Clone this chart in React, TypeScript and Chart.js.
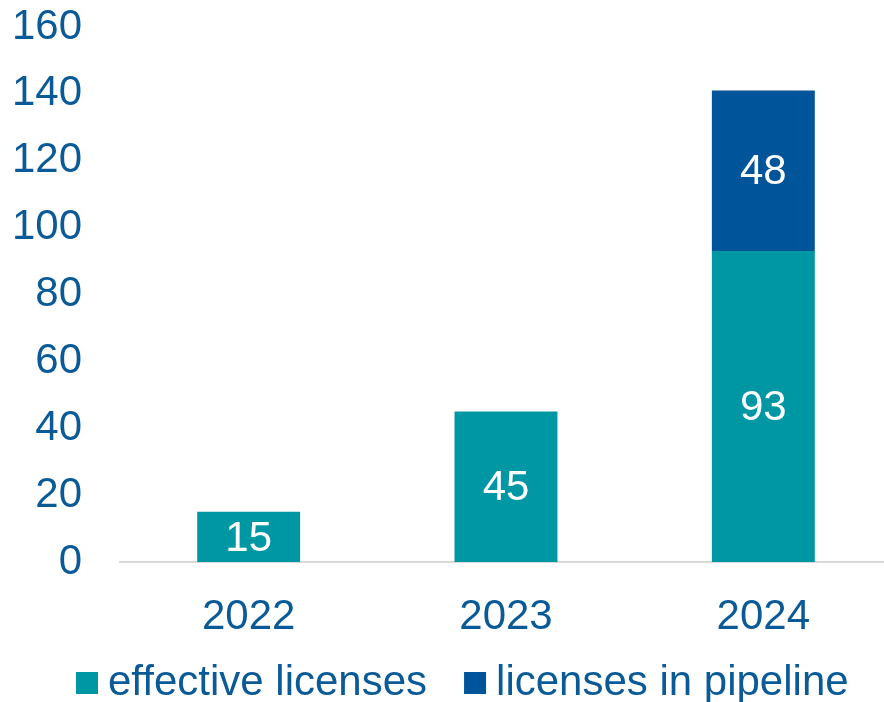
import React, { useEffect, useRef } from "react";
import { Chart, registerables } from "chart.js";

Chart.register(...registerables);

const categories = ["2022", "2023", "2024"];
const effectiveLicenses = [15, 45, 93];
const pipelineLicenses = [null, null, 48];
const seriesLabels = ["effective licenses", "licenses in pipeline"];
const yTicks = [0, 20, 40, 60, 80, 100, 120, 140, 160];

const TEAL = "#0097A4";
const NAVY = "#00559A";
const TEXT = "#0B5A98";
const FONT = "'Liberation Sans', Arial, sans-serif";

const valueLabels = {
  id: "valueLabels",
  afterDatasetsDraw(chart: any) {
    const ctx = chart.ctx;
    ctx.save();
    ctx.fillStyle = "#ffffff";
    ctx.font = `42px ${FONT}`;
    ctx.textAlign = "center";
    ctx.textBaseline = "middle";
    chart.data.datasets.forEach((ds: any, di: number) => {
      const meta = chart.getDatasetMeta(di);
      meta.data.forEach((bar: any, i: number) => {
        const v = ds.data[i];
        if (v == null) return;
        const { x, y, base } = bar.getProps(["x", "y", "base"], true);
        ctx.fillText(String(v), x, (y + base) / 2 + 2);
      });
    });
    ctx.restore();
  },
};

const bottomLegend = {
  id: "bottomLegend",
  afterDraw(chart: any) {
    const ctx = chart.ctx;
    ctx.save();
    ctx.font = `42px ${FONT}`;
    ctx.textBaseline = "middle";
    ctx.textAlign = "left";
    let x = 76;
    const yc = 683;
    chart.data.datasets.forEach((ds: any) => {
      ctx.fillStyle = ds.backgroundColor;
      ctx.fillRect(x, yc - 11, 22, 22);
      x += 22 + 10;
      ctx.fillStyle = TEXT;
      ctx.fillText(ds.label, x, yc);
      x += ctx.measureText(ds.label).width + 37;
    });
    ctx.restore();
  },
};

export default function App() {
  const ref = useRef<HTMLCanvasElement | null>(null);

  useEffect(() => {
    document.body.style.margin = "0";
    document.body.style.overflow = "hidden";
    const chart = new Chart(ref.current!, {
      type: "bar",
      data: {
        labels: categories,
        datasets: [
          {
            label: seriesLabels[0],
            data: effectiveLicenses,
            backgroundColor: TEAL,
            barPercentage: 0.4,
            categoryPercentage: 1,
          },
          {
            label: seriesLabels[1],
            data: pipelineLicenses as any,
            backgroundColor: NAVY,
            barPercentage: 0.4,
            categoryPercentage: 1,
          },
        ],
      },
      options: {
        animation: false,
        responsive: true,
        maintainAspectRatio: false,
        layout: { padding: { top: 27, bottom: 65, left: 0, right: 0 } },
        plugins: {
          legend: { display: false },
          tooltip: { enabled: false },
        },
        scales: {
          x: {
            stacked: true,
            grid: { display: false },
            border: { display: true, color: "#D9D9D9", width: 2 },
            ticks: {
              color: TEXT,
              font: { family: FONT, size: 42 },
              padding: 22,
              maxRotation: 0,
              autoSkip: false,
            },
            afterFit(scale: any) {
              scale.height = 75;
            },
          },
          y: {
            stacked: true,
            min: 0,
            max: 160,
            afterBuildTicks(scale: any) {
              scale.ticks = yTicks.map((v) => ({ value: v }));
            },
            afterFit(scale: any) {
              scale.width = 120;
              scale.paddingTop = 0;
              scale.paddingBottom = 0;
            },
            grid: { display: false },
            border: { display: false },
            ticks: {
              color: TEXT,
              font: { family: FONT, size: 42 },
              padding: 30,
            },
          },
        },
      },
      plugins: [valueLabels, bottomLegend],
    });
    return () => chart.destroy();
  }, []);

  return (
    <div style={{ width: 884, height: 702, overflow: "hidden", position: "relative" }}>
      <div style={{ width: 892, height: 702, position: "absolute", left: 0, top: 0 }}>
        <canvas ref={ref} />
      </div>
    </div>
  );
}
